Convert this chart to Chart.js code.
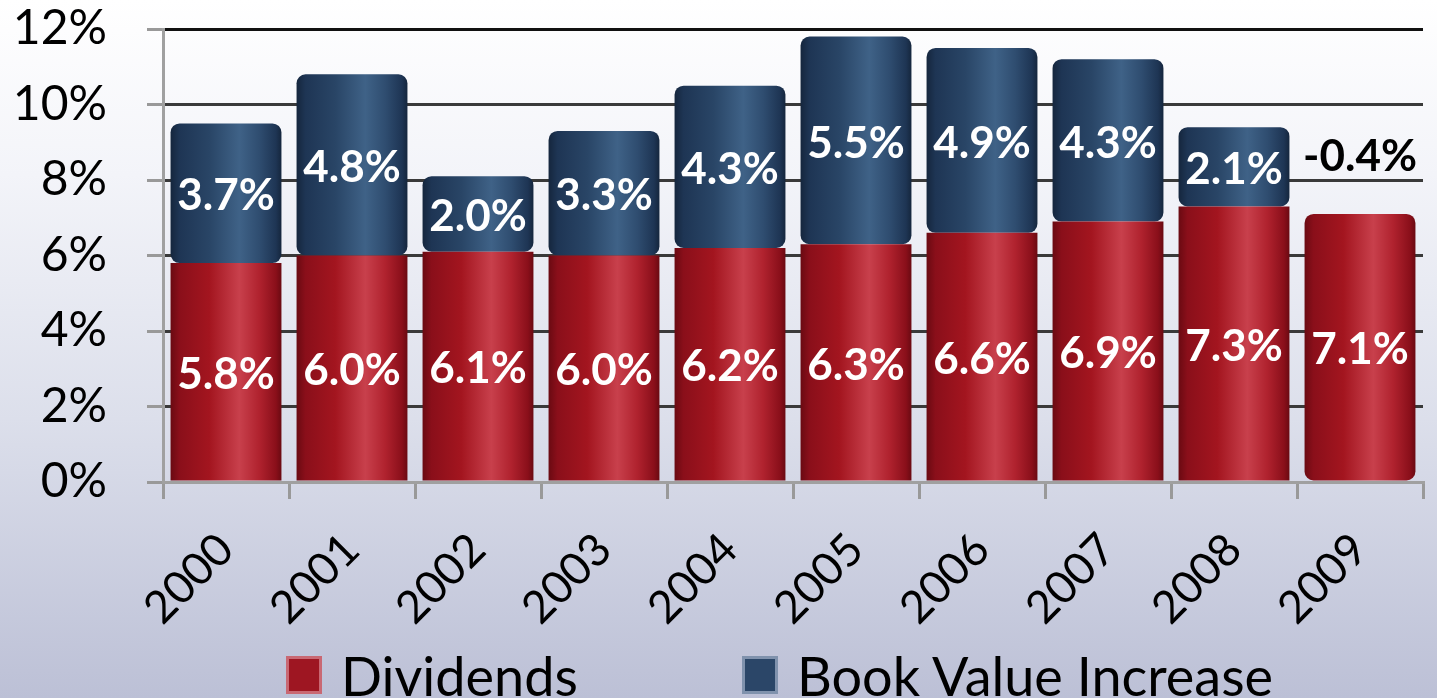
<!DOCTYPE html>
<html>
<head>
<meta charset="utf-8">
<script src="https://cdn.jsdelivr.net/npm/chart.js@4.4.1/dist/chart.umd.min.js"></script>
<style>
  html, body { margin: 0; padding: 0; }
  body {
    width: 1437px; height: 698px; overflow: hidden;
    background: linear-gradient(to bottom, #ffffff 0%, #f3f4f9 25%, #dcdfeb 60%, #bcc0d6 100%);
    font-family: Lato, "Open Sans", sans-serif;
  }
  .wrap { position: relative; width: 1437px; height: 698px; }
  .legend .item {
    position: absolute; top: 645px; height: 60px;
    display: flex; align-items: center; font-size: 54px; color: #000; white-space: nowrap;
  }
  .legend .box { width: 36px; height: 38px; margin-right: 19px; box-sizing: border-box; }
  .legend .red { background: #9e1622; border: 3px solid rgba(220, 140, 150, 0.7); }
  .legend .blue { background: #2b4668; border: 3px solid rgba(150, 165, 190, 0.8); }
</style>
</head>
<body>
<div class="wrap">
  <canvas id="chart" width="1437" height="698"></canvas>
  <div class="legend">
    <div class="item" style="left: 286px;"><span class="box red"></span><span>Dividends</span></div>
    <div class="item" style="left: 742px;"><span class="box blue"></span><span>Book Value Increase</span></div>
  </div>
</div>
<script>
const years = ['2000', '2001', '2002', '2003', '2004', '2005', '2006', '2007', '2008', '2009'];
const dividends = [5.8, 6.0, 6.1, 6.0, 6.2, 6.3, 6.6, 6.9, 7.3, 7.1];
const bookValue = [3.7, 4.8, 2.0, 3.3, 4.3, 5.5, 4.9, 4.3, 2.1, -0.4];
const yTicks = [0, 2, 4, 6, 8, 10, 12];

// cylinder-ish shading across each bar
function barGradient(context, stops) {
    const chart = context.chart;
    const x = chart.scales.x;
    if (!chart.chartArea || !x) return stops[2][1];
    const cat = x.getPixelForValue(1) - x.getPixelForValue(0);
    const w = cat * 0.88;
    const cx = x.getPixelForValue(context.dataIndex);
    const g = chart.ctx.createLinearGradient(cx - w / 2, 0, cx + w / 2, 0);
    stops.forEach(s => g.addColorStop(s[0], s[1]));
    return g;
}

const redStops = [[0, '#6a0a12'], [0.08, '#8a0f1a'], [0.35, '#a3151f'], [0.62, '#c8404c'], [0.8, '#b0222e'], [0.95, '#8a0f1a'], [1, '#6a0a12']];
const blueStops = [[0, '#15263d'], [0.08, '#1e3554'], [0.35, '#294566'], [0.62, '#3f6287'], [0.8, '#2f4d70'], [0.95, '#1e3554'], [1, '#15263d']];

const valueLabels = {
    id: 'valueLabels',
    afterDatasetsDraw(chart) {
        const ctx = chart.ctx;
        ctx.save();
        ctx.font = 'bold 44px Lato, "Open Sans", sans-serif';
        ctx.textAlign = 'center';
        ctx.textBaseline = 'middle';
        chart.data.datasets.forEach((ds, di) => {
            const meta = chart.getDatasetMeta(di);
            meta.data.forEach((bar, i) => {
                const v = ds.data[i];
                const text = v.toFixed(1) + '%';
                if (v < 0) {
                    const below = chart.getDatasetMeta(0).data[i];
                    ctx.fillStyle = '#000';
                    ctx.fillText(text, below.x, below.y - 57);
                } else {
                    ctx.fillStyle = '#fff';
                    ctx.fillText(text, bar.x, (bar.y + bar.base) / 2 + 3);
                }
            });
        });
        ctx.restore();
    }
};

new Chart(document.getElementById('chart'), {
    type: 'bar',
    data: {
        labels: years,
        datasets: [{
            label: 'Dividends',
            data: dividends,
            backgroundColor: ctx => barGradient(ctx, redStops),
            borderRadius: 9,
            borderSkipped: false,
            barPercentage: 0.88,
            categoryPercentage: 1
        }, {
            label: 'Book Value Increase',
            data: bookValue,
            backgroundColor: ctx => (bookValue[ctx.dataIndex] < 0 ? 'rgba(0,0,0,0)' : barGradient(ctx, blueStops)),
            borderRadius: 9,
            borderSkipped: false,
            barPercentage: 0.88,
            categoryPercentage: 1
        }]
    },
    options: {
        responsive: false,
        animation: false,
        layout: { padding: { top: 29, right: 14, bottom: 60, left: 0 } },
        plugins: {
            legend: { display: false },
            tooltip: { enabled: false }
        },
        scales: {
            x: {
                stacked: true,
                grid: { display: true, drawOnChartArea: false, drawTicks: true, tickLength: 17, color: '#999', lineWidth: 3, offset: true },
                border: { color: '#a0a0a0', width: 3 },
                ticks: {
                    color: '#000', maxRotation: 45, minRotation: 45, padding: 24,
                    font: { family: 'Lato, "Open Sans", sans-serif', size: 45 }
                },
                afterFit: scale => { scale.height = 698 - 60 - 482; }
            },
            y: {
                stacked: true,
                min: 0, max: 12,
                afterBuildTicks: scale => { scale.ticks = yTicks.map(v => ({ value: v })); },
                grid: {
                    color: c => (c.tick.value === 0 ? '#a0a0a0' : c.tick.value === 12 ? '#111' : '#3a3a3a'),
                    tickColor: '#999', lineWidth: 3, tickLength: 16
                },
                border: { color: '#a0a0a0', width: 3 },
                ticks: {
                    color: '#000', padding: 40,
                    font: { family: 'Lato, "Open Sans", sans-serif', size: 48 },
                    callback: v => v + '%'
                },
                afterFit: scale => {
                    scale.width = 163;
                    scale.paddingTop = 0;
                    scale.paddingBottom = 0;
                }
            }
        }
    },
    plugins: [valueLabels]
});
</script>
</body>
</html>
